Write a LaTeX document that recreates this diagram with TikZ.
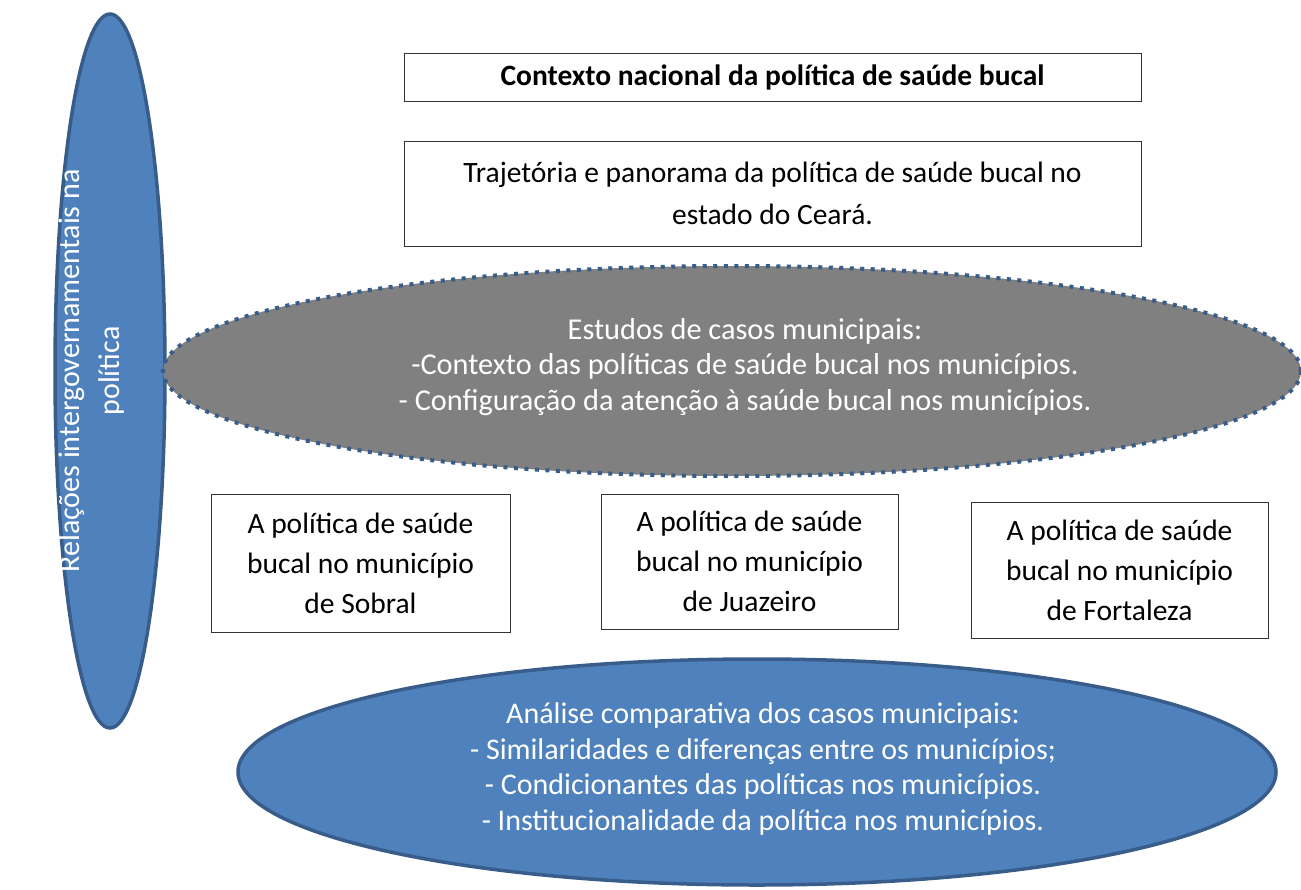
\documentclass[tikz,border=0pt]{standalone}
\usepackage{fontspec}
\setmainfont{Carlito}
\usetikzlibrary{shapes.geometric}
\definecolor{blfill}{HTML}{4F81BD}
\definecolor{bldraw}{HTML}{385D8A}
\definecolor{grfill}{HTML}{808080}
\tikzset{
  txtbox/.style={draw=black!80, line width=1pt, fill=white, inner sep=0pt, align=center,
    font=\fontsize{29.5}{40}\selectfont, text=black},
  blueell/.style={ellipse, draw=bldraw, fill=blfill, line width=3.5pt, inner sep=0pt},
  grayell/.style={ellipse, draw=bldraw, fill=grfill, line width=4pt, inner sep=0pt,
    dash pattern=on 4pt off 6.5pt},
  elltext/.style={text=white, align=center, font=\fontsize{29.5}{35.7}\selectfont, inner sep=0pt}
}
\begin{document}
\begin{tikzpicture}[x=1pt,y=-1pt]
\useasboundingbox (0,0) rectangle (1301,889);
% left vertical ellipse
\node[blueell, minimum width=110pt, minimum height=714pt] (rel) at (110,371) {};
\node[elltext, rotate=90, font=\fontsize{30}{40}\selectfont] (reltxt) at (92,371)
  {Relações intergovernamentais na\\política};
% top boxes
\node[txtbox, minimum width=737pt, minimum height=48pt,
  font=\fontsize{29.5}{40}\selectfont\bfseries] (ctx) at (772.5,77) {Contexto nacional da política de saúde bucal};
\node[txtbox, minimum width=737pt, minimum height=105pt,
  font=\fontsize{29.5}{42}\selectfont] (traj) at (772.5,193.5)
  {Trajetória e panorama da política de saúde bucal no\\estado do Ceará.};
% gray ellipse
\node[grayell, minimum width=1138pt, minimum height=210pt] (est) at (732,371) {};
\node[elltext, font=\fontsize{30.3}{35.7}\selectfont] (esttxt) at (745,367)
  {Estudos de casos municipais:\\-Contexto das políticas de saúde bucal nos municípios.\\- Configuração da atenção à saúde bucal nos municípios.};
% municipal boxes
\node[txtbox, minimum width=299pt, minimum height=138pt] (sob) at (360.5,563)
  {A política de saúde\\bucal no município\\de Sobral};
\node[txtbox, minimum width=297pt, minimum height=135pt] (jua) at (749.5,561.5)
  {A política de saúde\\bucal no município\\de Juazeiro};
\node[txtbox, minimum width=297pt, minimum height=136pt] (for) at (1119.5,570)
  {A política de saúde\\bucal no município\\de Fortaleza};
% bottom ellipse
\node[blueell, minimum width=1038pt, minimum height=226pt] (ana) at (757,772) {};
\node[elltext, font=\fontsize{30}{35.7}\selectfont] (anatxt) at (763,769)
  {Análise comparativa dos casos municipais:\\- Similaridades e diferenças entre os municípios;\\- Condicionantes das políticas nos municípios.\\- Institucionalidade da política nos municípios.};
\end{tikzpicture}
\end{document}
